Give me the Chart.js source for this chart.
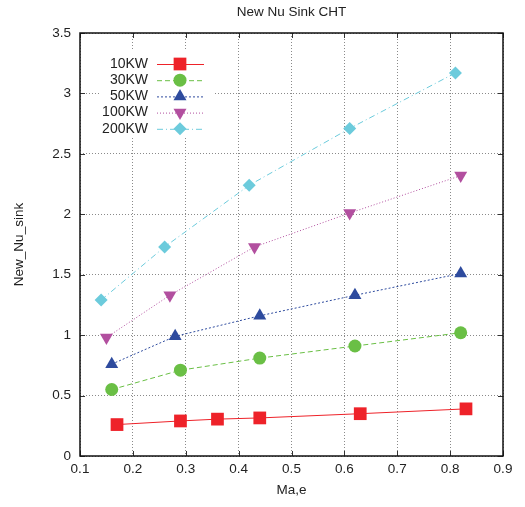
<!DOCTYPE html>
<html lang="en">
<head>
  <meta charset="UTF-8" />
  <title>New Nu Sink CHT</title>
  <style>
    html, body { margin: 0; padding: 0; background: #fff; }
    canvas { display: block; }
  </style>
  <script src="https://cdn.jsdelivr.net/npm/chart.js"></script>
</head>
<body>
  <canvas id="nuChart" width="525" height="507"></canvas>
  <script>
    // values
    const seriesNames = ['10KW', '30KW', '50KW', '100KW', '200KW'];
    const ma10 = [0.17, 0.29, 0.36, 0.44, 0.63, 0.83];
    const nu10 = [0.26, 0.29, 0.305, 0.315, 0.35, 0.39];
    const ma30 = [0.16, 0.29, 0.44, 0.62, 0.82];
    const nu30 = [0.55, 0.71, 0.81, 0.91, 1.02];
    const ma50 = [0.16, 0.28, 0.44, 0.62, 0.82];
    const nu50 = [0.76, 0.99, 1.16, 1.33, 1.51];
    const ma100 = [0.15, 0.27, 0.43, 0.61, 0.82];
    const nu100 = [0.98, 1.33, 1.73, 2.01, 2.32];
    const ma200 = [0.14, 0.26, 0.42, 0.61, 0.81];
    const nu200 = [1.29, 1.73, 2.24, 2.71, 3.17];

    const xTicks = [0.1, 0.2, 0.3, 0.4, 0.5, 0.6, 0.7, 0.8, 0.9];
    const yTicks = [0, 0.5, 1, 1.5, 2, 2.5, 3, 3.5];

    const FONT = "'Liberation Sans', Arial, Helvetica, sans-serif";

    function pts(xs, ys) {
      return xs.map((x, i) => ({ x: x, y: ys[i] }));
    }

    // styling per series (gnuplot-like)
    const styles = [
      { color: '#ee2229', dash: [], point: 'rect', radius: 9, rot: 0 },
      { color: '#6abf45', dash: [5, 3], point: 'circle', radius: 6.5, rot: 0 },
      { color: '#2e4b9e', dash: [2, 2], point: 'triangle', radius: 7.5, rot: 0 },
      { color: '#b24f9f', dash: [1, 2], point: 'triangle', radius: 7.5, rot: 180 },
      { color: '#6ccbdc', dash: [6, 3, 1, 3], point: 'rectRot', radius: 6.5, rot: 0 }
    ];
    const allData = [pts(ma10, nu10), pts(ma30, nu30), pts(ma50, nu50), pts(ma100, nu100), pts(ma200, nu200)];

    const datasets = seriesNames.map((name, i) => ({
      label: name,
      data: allData[i],
      showLine: true,
      borderColor: styles[i].color,
      borderWidth: 1,
      borderDash: styles[i].dash,
      backgroundColor: styles[i].color,
      pointBackgroundColor: styles[i].color,
      pointBorderColor: styles[i].color,
      pointBorderWidth: 0,
      pointStyle: styles[i].point,
      pointRadius: styles[i].radius,
      pointRotation: styles[i].rot,
      tension: 0
    }));

    // title, inset legend, frame with inward ticks
    const decor = {
      id: 'decor',
      beforeDatasetsDraw(chart) {
        const ctx = chart.ctx;
        ctx.save();
        ctx.fillStyle = '#fff';
        ctx.fillRect(100, 50, 113, 87);
        ctx.restore();
      },
      afterDatasetsDraw(chart) {
        const ctx = chart.ctx;
        ctx.save();
        ctx.font = '14px ' + FONT;
        ctx.textAlign = 'right';
        ctx.textBaseline = 'middle';
        chart.data.datasets.forEach((ds, i) => {
          const y = 64 + i * 16.2;
          ctx.fillStyle = '#222';
          ctx.fillText(ds.label, 148, y);
          ctx.strokeStyle = ds.borderColor;
          ctx.lineWidth = 1;
          ctx.setLineDash(ds.borderDash);
          ctx.beginPath();
          ctx.moveTo(157, y + 0.5);
          ctx.lineTo(204, y + 0.5);
          ctx.stroke();
          ctx.setLineDash([]);
          ctx.fillStyle = ds.pointBackgroundColor;
          Chart.helpers.drawPoint(ctx, {
            pointStyle: ds.pointStyle,
            radius: ds.pointRadius,
            rotation: ds.pointRotation,
            borderWidth: 0
          }, 180, y);
        });
        ctx.restore();
      },
      afterDraw(chart) {
        const ctx = chart.ctx;
        const a = chart.chartArea;
        const xs = chart.scales.x, ys = chart.scales.y;
        ctx.save();
        ctx.fillStyle = '#222';
        ctx.font = '13.5px ' + FONT;
        ctx.textAlign = 'center';
        ctx.textBaseline = 'middle';
        ctx.fillText('New Nu Sink CHT', (a.left + a.right) / 2, 12);

        ctx.strokeStyle = '#333';
        ctx.lineWidth = 1;
        ctx.beginPath();
        xTicks.forEach(v => {
          const px = Math.round(xs.getPixelForValue(v)) + 0.5;
          ctx.moveTo(px, a.bottom); ctx.lineTo(px, a.bottom - 5);
          ctx.moveTo(px, a.top); ctx.lineTo(px, a.top + 5);
        });
        yTicks.forEach(v => {
          const py = Math.round(ys.getPixelForValue(v)) + 0.5;
          ctx.moveTo(a.left, py); ctx.lineTo(a.left + 5, py);
          ctx.moveTo(a.right, py); ctx.lineTo(a.right - 5, py);
        });
        ctx.stroke();
        ctx.strokeStyle = '#111';
        ctx.lineWidth = 1.5;
        ctx.strokeRect(a.left, a.top, a.right - a.left, a.bottom - a.top);
        ctx.restore();
      }
    };

    new Chart(document.getElementById('nuChart'), {
      type: 'scatter',
      data: { datasets: datasets },
      options: {
        responsive: false,
        animation: false,
        events: [],
        layout: { padding: { top: 33, right: 22, bottom: 0, left: 0 } },
        plugins: {
          legend: { display: false },
          title: { display: false },
          tooltip: { enabled: false }
        },
        scales: {
          x: {
            type: 'linear',
            min: 0.1,
            max: 0.9,
            afterBuildTicks: s => { s.ticks = xTicks.map(v => ({ value: v })); },
            afterFit: s => { s.height = 51; },
            grid: { color: '#8a8a8a', drawTicks: false, lineWidth: 1 },
            border: { display: false, dash: [1, 2] },
            ticks: {
              padding: 5,
              color: '#222',
              font: { family: FONT, size: 13.5 },
              callback: v => String(+v.toFixed(1))
            },
            title: {
              display: true,
              text: 'Ma,e',
              color: '#222',
              font: { family: FONT, size: 13.5 },
              padding: { top: 0, bottom: 9 }
            }
          },
          y: {
            type: 'linear',
            min: 0,
            max: 3.5,
            afterBuildTicks: s => { s.ticks = yTicks.map(v => ({ value: v })); },
            afterFit: s => { s.width = 80; },
            grid: { color: '#8a8a8a', drawTicks: false, lineWidth: 1 },
            border: { display: false, dash: [1, 2] },
            ticks: {
              padding: 9,
              color: '#222',
              font: { family: FONT, size: 13.5 },
              callback: v => String(+v.toFixed(1))
            },
            title: {
              display: true,
              text: 'New_Nu_sink',
              color: '#222',
              font: { family: FONT, size: 13.5 },
              padding: { top: 11, bottom: 0 }
            }
          }
        }
      },
      plugins: [decor]
    });
  </script>
</body>
</html>
